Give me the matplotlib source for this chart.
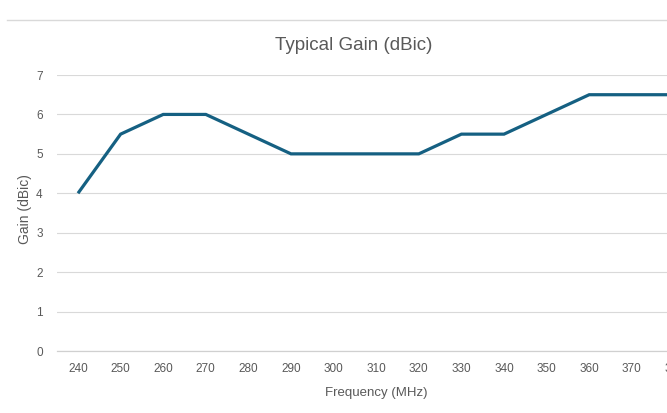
import matplotlib
matplotlib.use("Agg")
import matplotlib.pyplot as plt
from matplotlib.lines import Line2D

freqs = [240, 250, 260, 270, 280, 290, 300, 310, 320, 330, 340, 350, 360, 370, 380]
gain = [4, 5.5, 6, 6, 5.5, 5, 5, 5, 5, 5.5, 5.5, 6, 6.5, 6.5, 6.5]
yticks = [0, 1, 2, 3, 4, 5, 6, 7]

W, H = 667, 413
fig = plt.figure(figsize=(W / 100, H / 100), dpi=100)
fig.patch.set_facecolor("white")

left_px = 56.7
spacing = 42.6
n = len(freqs)
right_px = left_px + spacing * n
top_px, bottom_px = 75, 351
ax = fig.add_axes([left_px / W, 1 - bottom_px / H, (right_px - left_px) / W, (bottom_px - top_px) / H])

x = list(range(n))
ax.plot(x, gain, color="#156082", lw=2.3, solid_joinstyle="miter", solid_capstyle="butt", zorder=3)
ax.set_xlim(-0.5, n - 0.5)
ax.set_ylim(0, 7)
ax.set_yticks(yticks)
ax.set_xticks(x)
ax.set_xticklabels([str(f) for f in freqs])
ax.grid(axis="y", color="#d9d9d9", lw=0.8)
ax.set_axisbelow(True)
for s in ["top", "right", "left"]:
    ax.spines[s].set_visible(False)
ax.spines["bottom"].set_color("#d0d0d0")
ax.spines["bottom"].set_linewidth(0.9)
ax.tick_params(axis="both", length=0, colors="#595959", labelsize=8.5)
ax.tick_params(axis="x", pad=9)
ax.tick_params(axis="y", pad=10)
for lbl in ax.get_xticklabels() + ax.get_yticklabels():
    lbl.set_fontfamily(["Liberation Sans", "DejaVu Sans"])

ax.set_xlabel("Frequency (MHz)", color="#595959", fontsize=9.5, labelpad=8,
              fontfamily=["Liberation Sans", "DejaVu Sans"])
fig.text(25 / W, 1 - 209 / H, "Gain (dBic)", rotation=90, ha="center", va="center",
         color="#595959", fontsize=10, fontfamily=["Liberation Sans", "DejaVu Sans"])
fig.text(354 / W, 1 - 45 / H, "Typical Gain (dBic)", ha="center", va="center",
         color="#595959", fontsize=13.5,
         fontfamily=["Liberation Sans", "DejaVu Sans"])

fig.add_artist(Line2D([7 / W, 1], [1 - 20 / H, 1 - 20 / H], transform=fig.transFigure,
                      color="#d9d9d9", lw=1))

fig.savefig("out.png", dpi=100)
